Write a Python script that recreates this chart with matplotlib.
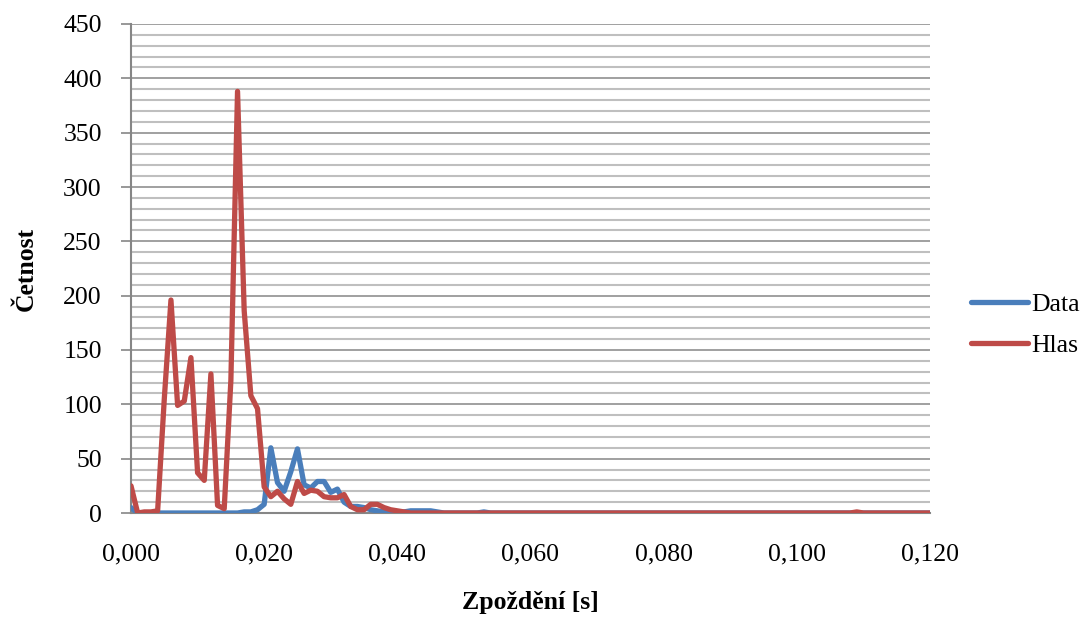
import matplotlib
matplotlib.use("Agg")
import matplotlib.pyplot as plt
import numpy as np
from matplotlib.ticker import MultipleLocator, FuncFormatter

# delay bins in seconds (0.001 s step)
delay = np.round(np.arange(0, 121) * 0.001, 3)

data_counts = [
    5, 0, 0, 0, 0, 0, 0, 0, 0, 0,
    0, 0, 0, 0, 0, 0, 0, 1, 1, 3,
    8, 60, 28, 20, 38, 59, 26, 23, 29, 29,
    19, 22, 10, 6, 6, 5, 3, 2, 1, 1,
    0, 1, 2, 2, 2, 2, 1, 0, 0, 0,
    0, 0, 0, 1, 0, 0, 0, 0, 0, 0,
    0, 0, 0, 0, 0, 0, 0, 0, 0, 0,
    0, 0, 0, 0, 0, 0, 0, 0, 0, 0,
    0, 0, 0, 0, 0, 0, 0, 0, 0, 0,
    0, 0, 0, 0, 0, 0, 0, 0, 0, 0,
    0, 0, 0, 0, 0, 0, 0, 0, 0, 0,
    0, 0, 0, 0, 0, 0, 0, 0, 0, 0,
    0,
]

voice_counts = [
    25, 0, 1, 1, 2, 105, 196, 99, 103, 143,
    37, 30, 128, 7, 4, 122, 388, 186, 108, 96,
    24, 15, 20, 13, 8, 29, 18, 21, 20, 15,
    14, 14, 17, 6, 3, 3, 8, 8, 5, 3,
    2, 1, 0, 0, 0, 0, 0, 0, 0, 0,
    0, 0, 0, 0, 0, 0, 0, 0, 0, 0,
    0, 0, 0, 0, 0, 0, 0, 0, 0, 0,
    0, 0, 0, 0, 0, 0, 0, 0, 0, 0,
    0, 0, 0, 0, 0, 0, 0, 0, 0, 0,
    0, 0, 0, 0, 0, 0, 0, 0, 0, 0,
    0, 0, 0, 0, 0, 0, 0, 0, 0, 1,
    0, 0, 0, 0, 0, 0, 0, 0, 0, 0,
    0,
]

plt.rcParams['font.family'] = ['Liberation Serif', 'DejaVu Serif']

fig = plt.figure(figsize=(10.87, 6.22), dpi=100)
ax = fig.add_axes([131 / 1087, 109 / 622, 799 / 1087, 489 / 622])

ax.plot(delay, data_counts, color='#4A7EBB', lw=3.8, solid_joinstyle='round',
        solid_capstyle='round', label='Data', zorder=3)
ax.plot(delay, voice_counts, color='#BE4B48', lw=3.8, solid_joinstyle='round',
        solid_capstyle='round', label='Hlas', zorder=4)

ax.set_xlim(0, 0.120)
ax.set_ylim(0, 450)
ax.xaxis.set_major_locator(MultipleLocator(0.020))
ax.xaxis.set_major_formatter(FuncFormatter(lambda v, p: f"{v:.3f}".replace('.', ',')))
ax.yaxis.set_major_locator(MultipleLocator(50))
ax.yaxis.set_minor_locator(MultipleLocator(10))

# horizontal grid: light every 10, darker every 50
ax.grid(axis='y', which='minor', color='#BFBFBF', lw=1.5, zorder=0)
ax.grid(axis='y', which='major', color='#868686', lw=1.1, zorder=1)
ax.set_axisbelow(True)

for s in ['top', 'right']:
    ax.spines[s].set_visible(False)
for s in ['left', 'bottom']:
    ax.spines[s].set_color('#868686')
    ax.spines[s].set_linewidth(1.5)

ax.tick_params(axis='y', which='major', length=7, width=1.2, color='#868686',
               pad=14, labelsize=18.5)
ax.tick_params(axis='y', which='minor', length=0)
ax.tick_params(axis='x', which='major', length=0, pad=22, labelsize=18.5)

ax.set_ylabel('Četnost', fontsize=18.5, fontweight='bold', labelpad=18)
ax.set_xlabel('Zpoždění [s]', fontsize=18.5, fontweight='bold', labelpad=18)

fig.legend(loc='center left', bbox_to_anchor=(961 / 1087, 1 - 325 / 622),
           frameon=False, fontsize=18.5, handlelength=2.2, handletextpad=0.15,
           labelspacing=0.7, borderaxespad=0)

fig.savefig('out.png', dpi=100)
